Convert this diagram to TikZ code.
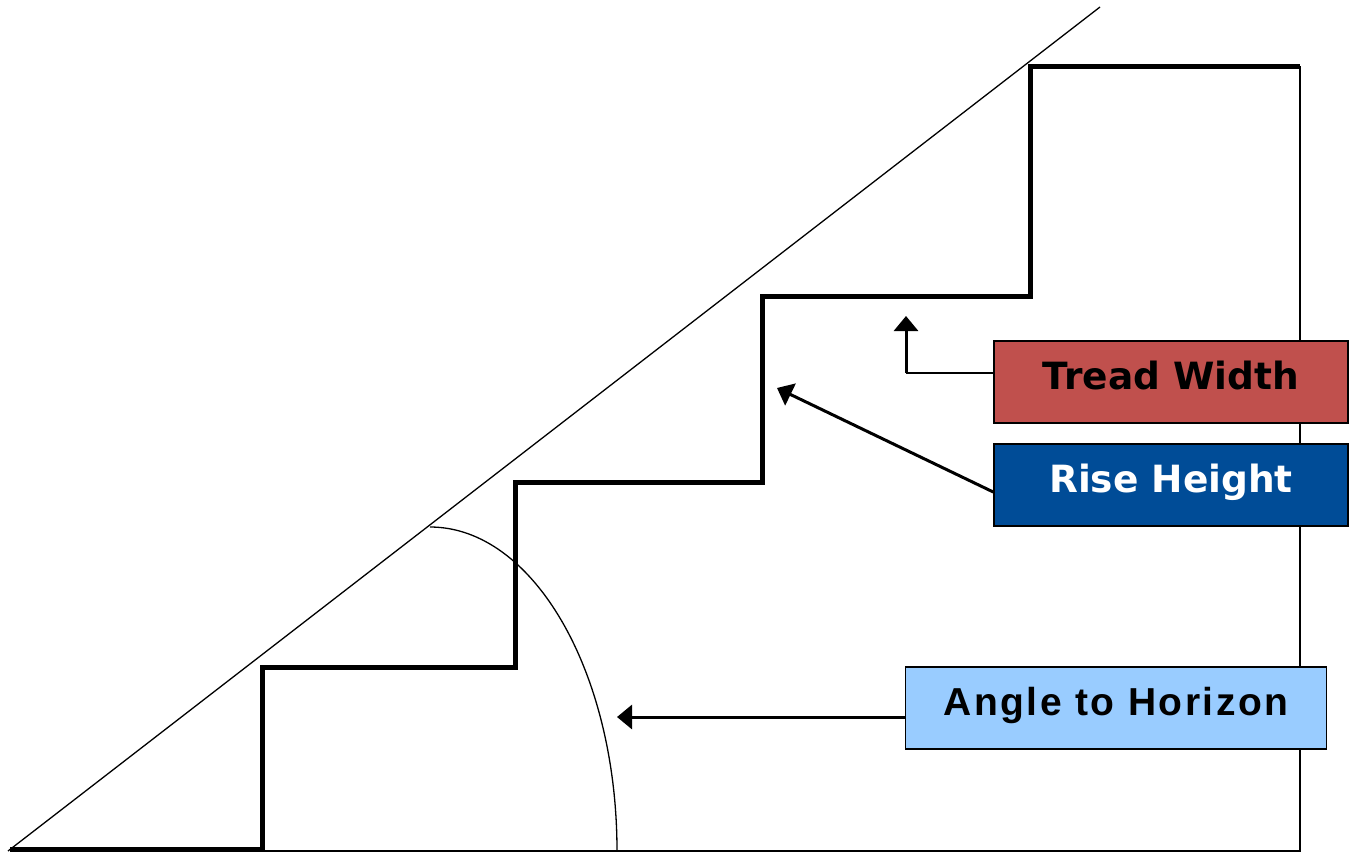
\documentclass[tikz,border=0pt]{standalone}
\usepackage{fontspec}
\setmainfont{DejaVu Sans}
\newfontfamily\narrowfont[LetterSpace=6.5]{Liberation Sans}
\usetikzlibrary{arrows.meta}
\definecolor{treadred}{RGB}{192,80,77}
\definecolor{riseblue}{RGB}{0,76,151}
\definecolor{anglesky}{RGB}{153,204,255}
\begin{document}
\begin{tikzpicture}[x=1pt,y=-1pt]
\tikzstyle{label box}=[draw=black, line width=1.5pt, minimum width=354pt, minimum height=82pt, inner sep=0pt, text height=27pt, text depth=13pt, font=\fontsize{37.5}{40}\selectfont\bfseries]
\tikzstyle{thin}=[line width=1.3pt]
\tikzstyle{pointer}=[line width=3pt, -{Triangle[length=15pt,width=24pt]}]
\useasboundingbox (0,0) rectangle (1351,852);
\draw [thin] (8,851) -- (1100,7);
\draw [thin] (262,851) -- (1300,851) -- (1300,66);
\draw [thin] (617,851) arc[start angle=0, end angle=90, x radius=187pt, y radius=324pt];
\draw [line width=5pt, line join=miter] (10,849) -- (262,849) -- (262,667) -- (515,667) -- (515,482) -- (762,482) -- (762,296) -- (1030,296) -- (1030,66) -- (1300,66);

\node [label box, fill=treadred, text=black] (tread) at (1171,382) {Tread Width};
\node [label box, fill=riseblue, text=white] (rise) at (1171,485) {Rise Height};
\node [label box, fill=anglesky, minimum width=421pt, font=\narrowfont\fontsize{39}{42}\selectfont\bfseries] (angle) at (1116,708) {Angle to Horizon};

\coordinate (tread bend) at (906,373);
\coordinate (tread tip) at (906,316);
\coordinate (rise tip) at (777,388);
\coordinate (angle tip) at (617,717);
\draw [thin] (tread bend -| tread.west) -- (tread bend);
\draw [pointer] (tread bend) -- (tread tip);
\draw [pointer] ([yshift=-7pt]rise.west) -- (rise tip);
\draw [pointer] (angle tip -| angle.west) -- (angle tip);
\end{tikzpicture}
\end{document}
